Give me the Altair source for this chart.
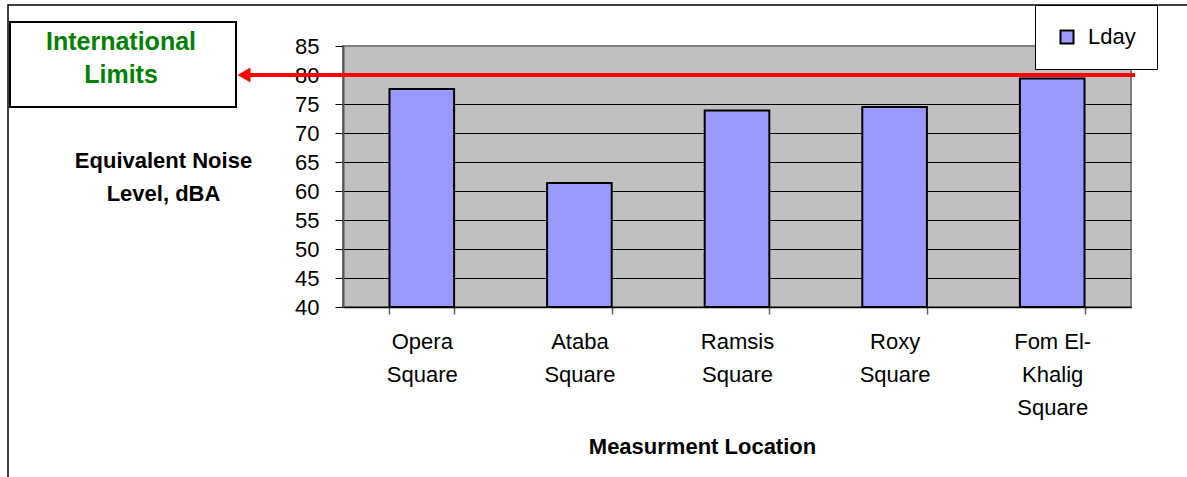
import altair as alt
import pandas as pd

# Equivalent daytime noise level (Lday) per measurement location
locations = ["Opera Square", "Ataba Square", "Ramsis Square", "Roxy Square", "Fom El-Khalig Square"]
lday = [77.6, 61.4, 73.9, 74.5, 79.4]
series_name = "Lday"
limit_value = 80
y_ticks = [40, 45, 50, 55, 60, 65, 70, 75, 80, 85]
note_lines = ["International", "Limits"]

FONT = "Liberation Sans"
W, H = 788, 261

bars_df = pd.DataFrame({"location": locations, "value": lday, "series": series_name})
limit_df = pd.DataFrame({"limit": [limit_value]})

x_enc = alt.X(
    "location:N",
    sort=locations,
    scale=alt.Scale(paddingInner=0.59, paddingOuter=0.295),
    axis=alt.Axis(
        title="Measurment Location",
        titleFont=FONT, titleFontSize=22, titleFontWeight="bold", titleColor="black",
        titleX=359, titleY=139, titleAnchor="middle", titleBaseline="middle",
        labelFont=FONT, labelFontSize=22, labelColor="black", labelAngle=0,
        labelLineHeight=33, labelPadding=17, labelBaseline="top",
        labelExpr="datum.label == 'Fom El-Khalig Square' ? ['Fom El-', 'Khalig', 'Square'] : split(datum.label, ' ')",
        tickBand="extent", tickSize=7, tickColor="#606060", tickWidth=1.5,
        domainColor="black", domainWidth=1.5,
    ),
)

y_scale = alt.Scale(domain=[40, 85], nice=False, zero=False)
y_axis = alt.Axis(
    values=y_ticks,
    title=["Equivalent Noise", "Level, dBA"],
    titleAngle=0, titleAlign="center", titleBaseline="middle",
    titleX=-180, titleY=114, titleLineHeight=33,
    titleFont=FONT, titleFontSize=22, titleFontWeight="bold", titleColor="black",
    labelFont=FONT, labelFontSize=22, labelColor="black", labelPadding=16,
    tickSize=8, tickColor="black", tickWidth=1,
    domainColor="#555555", domainWidth=2,
    grid=True, gridWidth=1,
    gridColor={"condition": {"test": "datum.value == 85", "value": "#808080"}, "value": "black"},
)

bars = alt.Chart(bars_df).mark_bar(stroke="black", strokeWidth=2).encode(
    x=x_enc,
    y=alt.Y("value:Q", scale=y_scale, axis=y_axis),
    y2=alt.datum(40),
    fill=alt.Fill(
        "series:N",
        scale=alt.Scale(domain=[series_name], range=["#9999FF"]),
        legend=alt.Legend(
            title=None, orient="none", legendX=692, legendY=-41,
            strokeColor="black", fillColor="white", padding=21,
            symbolType="square", symbolSize=170, symbolStrokeColor="black",
            symbolStrokeWidth=2, labelFont=FONT, labelFontSize=22, labelColor="black",
            labelOffset=10,
        ),
    ),
)

# Outer frame around the figure
frame = alt.Chart(limit_df).mark_rect(fill=None, stroke="black", strokeWidth=1.5).encode(
    x=alt.value(-335), x2=alt.value(W + 80), y=alt.value(-41), y2=alt.value(H + 200)
)

# Reference line at the international limit, ending in an arrowhead at the note box
limit_line = alt.Chart(limit_df).mark_rule(color="#FF0000", strokeWidth=4).encode(
    y=alt.Y("limit:Q", scale=y_scale, axis=y_axis), x=alt.value(-100), x2=alt.value(W + 4)
)
arrow = alt.Chart(limit_df).mark_point(
    shape="triangle-left", filled=True, color="#FF0000", size=220, opacity=1
).encode(y=alt.Y("limit:Q", scale=y_scale, axis=y_axis), x=alt.value(-99))

note_box = alt.Chart(limit_df).mark_rect(fill="white", stroke="black", strokeWidth=2).encode(
    x=alt.value(-333), x2=alt.value(-107), y=alt.value(-24), y2=alt.value(61)
)


def note_line(text, y_px):
    return alt.Chart(limit_df).mark_text(
        text=text, font=FONT, fontSize=25, fontWeight="bold", color="#008000",
        align="center", baseline="middle",
    ).encode(x=alt.value(-222), y=alt.value(y_px))


note_top = note_line(note_lines[0], -4)
note_bottom = note_line(note_lines[1], 29)

chart = (
    alt.layer(frame, bars, limit_line, arrow, note_box, note_top, note_bottom)
    .properties(
        width=W, height=H,
        padding={"left": 343, "top": 46, "right": 56, "bottom": 170},
        autosize=alt.AutoSizeParams(type="none"),
        background="white",
    )
    .configure_view(fill="#C0C0C0", stroke="#808080", strokeWidth=2)
)

chart.save("out.html", embed_options={"renderer": "svg", "actions": False})
